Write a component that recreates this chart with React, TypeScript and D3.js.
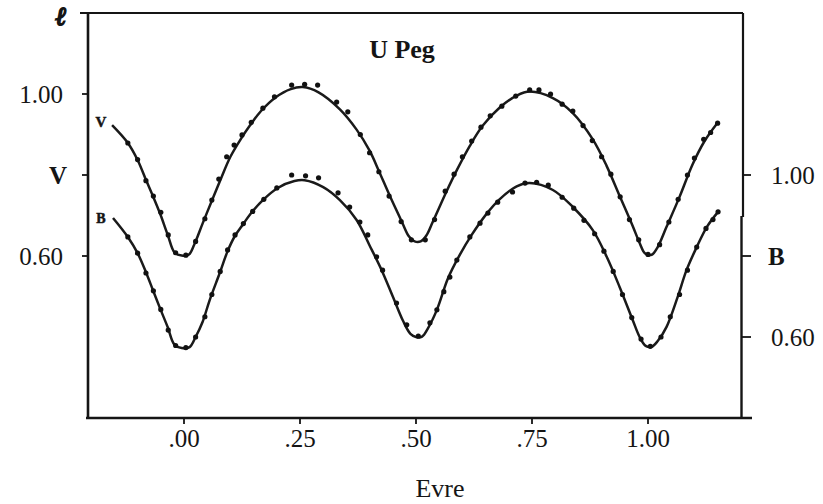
import React from "react";
import * as d3 from "d3";

// ---- data ----
const xTicks = [0, 0.25, 0.5, 0.75, 1.0];
const xTickLabels = [".00", ".25", ".50", ".75", "1.00"];
const leftTicks = [0.6, 0.8, 1.0];
const leftTickLabels = ["0.60", "V", "1.00"];
const rightTicks = [0.6, 0.8, 1.0];
const rightTickLabels = ["0.60", "B", "1.00"];

// fitted light curves (phase, intensity)
const vCurvePhase = [-0.155, -0.121, -0.1, -0.082, -0.067, -0.052, -0.035, -0.02, -0.005, 0.01, 0.022, 0.04, 0.062, 0.08, 0.1, 0.122, 0.142, 0.166, 0.198, 0.23, 0.256, 0.29, 0.336, 0.372, 0.4, 0.42, 0.443, 0.469, 0.485, 0.497, 0.51, 0.522, 0.536, 0.566, 0.588, 0.616, 0.644, 0.68, 0.717, 0.745, 0.795, 0.838, 0.881, 0.911, 0.939, 0.967, 0.982, 0.994, 1.008, 1.02, 1.04, 1.068, 1.096, 1.122, 1.148];
const vCurveValue = [0.923, 0.879, 0.837, 0.788, 0.748, 0.706, 0.652, 0.608, 0.601, 0.603, 0.628, 0.68, 0.742, 0.792, 0.845, 0.888, 0.922, 0.958, 0.992, 1.012, 1.017, 1.004, 0.962, 0.912, 0.86, 0.81, 0.75, 0.686, 0.648, 0.636, 0.636, 0.65, 0.684, 0.76, 0.812, 0.872, 0.922, 0.966, 0.996, 1.006, 0.99, 0.953, 0.888, 0.822, 0.748, 0.674, 0.632, 0.606, 0.603, 0.62, 0.672, 0.746, 0.826, 0.884, 0.926];

const bCurvePhase = [-0.153, -0.121, -0.1, -0.082, -0.067, -0.052, -0.035, -0.021, -0.005, 0.012, 0.025, 0.04, 0.055, 0.077, 0.094, 0.11, 0.127, 0.144, 0.17, 0.202, 0.238, 0.26, 0.3, 0.336, 0.372, 0.4, 0.426, 0.45, 0.472, 0.488, 0.5, 0.513, 0.526, 0.545, 0.569, 0.594, 0.62, 0.652, 0.68, 0.717, 0.745, 0.795, 0.838, 0.881, 0.911, 0.939, 0.967, 0.982, 0.995, 1.008, 1.021, 1.04, 1.064, 1.083, 1.105, 1.127, 1.151];
const bCurveValue = [0.894, 0.847, 0.807, 0.76, 0.716, 0.672, 0.624, 0.582, 0.573, 0.575, 0.6, 0.637, 0.69, 0.758, 0.812, 0.85, 0.878, 0.905, 0.938, 0.968, 0.985, 0.987, 0.97, 0.938, 0.889, 0.826, 0.765, 0.7, 0.64, 0.608, 0.6, 0.601, 0.622, 0.667, 0.745, 0.802, 0.852, 0.904, 0.94, 0.972, 0.98, 0.963, 0.921, 0.864, 0.798, 0.723, 0.642, 0.6, 0.578, 0.576, 0.59, 0.625, 0.699, 0.765, 0.822, 0.872, 0.909];

// observations
const vObsPhase = [-0.121, -0.1, -0.082, -0.066, -0.05, -0.034, -0.018, 0.004, 0.025, 0.045, 0.06, 0.075, 0.092, 0.108, 0.125, 0.145, 0.17, 0.195, 0.232, 0.26, 0.288, 0.329, 0.353, 0.38, 0.4, 0.42, 0.442, 0.468, 0.49, 0.52, 0.54, 0.563, 0.582, 0.6, 0.62, 0.64, 0.66, 0.685, 0.715, 0.745, 0.765, 0.79, 0.815, 0.838, 0.86, 0.88, 0.9, 0.92, 0.94, 0.96, 0.98, 1.0, 1.025, 1.045, 1.065, 1.085, 1.1, 1.12, 1.135, 1.15];
const vObsValue = [0.879, 0.838, 0.786, 0.748, 0.708, 0.652, 0.608, 0.602, 0.636, 0.692, 0.738, 0.79, 0.845, 0.874, 0.899, 0.93, 0.965, 0.993, 1.022, 1.024, 1.022, 0.98, 0.956, 0.9, 0.855, 0.808, 0.748, 0.685, 0.64, 0.64, 0.69, 0.76, 0.802, 0.845, 0.884, 0.918, 0.946, 0.97, 0.995, 1.01, 1.01, 1.0, 0.975, 0.958, 0.922, 0.885, 0.845, 0.802, 0.746, 0.69, 0.64, 0.604, 0.628, 0.684, 0.74, 0.8, 0.842, 0.888, 0.905, 0.928];

const bObsPhase = [-0.121, -0.1, -0.082, -0.066, -0.05, -0.034, -0.018, 0.004, 0.025, 0.045, 0.06, 0.078, 0.094, 0.11, 0.128, 0.148, 0.172, 0.2, 0.232, 0.262, 0.29, 0.332, 0.357, 0.379, 0.396, 0.415, 0.428, 0.458, 0.48, 0.505, 0.53, 0.545, 0.56, 0.573, 0.588, 0.616, 0.638, 0.655, 0.676, 0.708, 0.735, 0.76, 0.785, 0.815, 0.84, 0.862, 0.885, 0.905, 0.925, 0.945, 0.965, 0.985, 1.005, 1.028, 1.048, 1.068, 1.085, 1.105, 1.125, 1.14, 1.151];
const bObsValue = [0.847, 0.807, 0.758, 0.714, 0.668, 0.617, 0.579, 0.574, 0.6, 0.65, 0.705, 0.762, 0.815, 0.852, 0.88, 0.91, 0.94, 0.968, 1.0, 0.998, 0.993, 0.956, 0.921, 0.884, 0.852, 0.798, 0.765, 0.684, 0.63, 0.602, 0.635, 0.667, 0.712, 0.748, 0.79, 0.847, 0.881, 0.906, 0.933, 0.958, 0.98, 0.982, 0.975, 0.945, 0.918, 0.888, 0.855, 0.812, 0.762, 0.705, 0.648, 0.595, 0.577, 0.6, 0.65, 0.705, 0.765, 0.822, 0.868, 0.89, 0.909];

const W = 823;
const H = 504;
const FRAME = { left: 88, right: 742, top: 13, bottom: 418 };
const SERIF = "'Liberation Serif', 'Times New Roman', serif";
const INK = "#151515";

export default function App() {
  const x = d3.scaleLinear().domain([-0.2, 1.2]).range([91.2, 740.8]);
  const yV = d3.scaleLinear().domain([0.2, 1.2]).range([FRAME.bottom, FRAME.top]);
  const yB = d3.scaleLinear().domain([0.4, 1.4]).range([FRAME.bottom, FRAME.top]);

  const vLine = d3
    .line<number>()
    .x((_, i) => x(vCurvePhase[i]))
    .y((d) => yV(d))
    .curve(d3.curveCatmullRom.alpha(0.5));
  const bLine = d3
    .line<number>()
    .x((_, i) => x(bCurvePhase[i]))
    .y((d) => yB(d))
    .curve(d3.curveCatmullRom.alpha(0.5));

  return (
    <svg
      width={W}
      height={H}
      viewBox={`0 0 ${W} ${H}`}
      style={{ position: "absolute", left: 0, top: 0, background: "#fff" }}
    >
      <rect x={0} y={0} width={W} height={H} fill="#fff" />

      {/* frame */}
      <line x1={80} x2={FRAME.right + 1} y1={FRAME.top} y2={FRAME.top} stroke={INK} strokeWidth={2.2} />
      <line x1={FRAME.left} x2={FRAME.left} y1={FRAME.top} y2={FRAME.bottom} stroke={INK} strokeWidth={2.6} />
      <line x1={86} x2={752} y1={FRAME.bottom} y2={FRAME.bottom} stroke={INK} strokeWidth={2.6} />
      <line x1={743} x2={743} y1={FRAME.top} y2={217} stroke={INK} strokeWidth={2.2} />
      <line x1={741.5} x2={741.5} y1={216} y2={FRAME.bottom} stroke={INK} strokeWidth={2.4} />

      {/* left axis ticks */}
      {leftTicks.map((t, i) => (
        <g key={"l" + i}>
          <line x1={82} x2={FRAME.left} y1={yV(t)} y2={yV(t)} stroke={INK} strokeWidth={1.8} />
          <text
            x={i === 1 ? 67 : 63}
            y={yV(t) + 9}
            textAnchor="end"
            fontFamily={SERIF}
            fontSize={25}
            fontWeight={i === 1 ? "bold" : "normal"}
            fill={INK}
          >
            {leftTickLabels[i]}
          </text>
        </g>
      ))}

      {/* right axis ticks */}
      {rightTicks.map((t, i) => (
        <g key={"r" + i}>
          <line x1={742} x2={751} y1={yB(t)} y2={yB(t)} stroke={INK} strokeWidth={1.8} />
          <text
            x={i === 1 ? 768 : 771}
            y={yB(t) + 9}
            textAnchor="start"
            fontFamily={SERIF}
            fontSize={25}
            fontWeight={i === 1 ? "bold" : "normal"}
            fill={INK}
          >
            {rightTickLabels[i]}
          </text>
        </g>
      ))}

      {/* bottom axis ticks */}
      {xTicks.map((t, i) => (
        <g key={"b" + i}>
          <line x1={x(t)} x2={x(t)} y1={FRAME.bottom} y2={FRAME.bottom + 6} stroke={INK} strokeWidth={1.8} />
          <text x={x(t)} y={447} textAnchor="middle" fontFamily={SERIF} fontSize={25} fill={INK}>
            {xTickLabels[i]}
          </text>
        </g>
      ))}

      {/* axis titles */}
      <text x={440} y={497} textAnchor="middle" fontFamily={SERIF} fontSize={26} fill={INK}>
        Evre
      </text>
      <text
        x={61}
        y={25}
        textAnchor="middle"
        fontFamily="'DejaVu Serif', serif"
        fontSize={26}
        fontStyle="italic"
        fontWeight="bold"
        fill={INK}
        stroke={INK}
        strokeWidth={1.6}
      >
        ℓ
      </text>
      <text x={402} y={58} textAnchor="middle" fontFamily={SERIF} fontSize={26} fontWeight="bold" fill={INK}>
        U Peg
      </text>

      {/* curves */}
      <path d={vLine(vCurveValue) || ""} fill="none" stroke="#1a1a1a" strokeWidth={2.5} />
      <path d={bLine(bCurveValue) || ""} fill="none" stroke="#1a1a1a" strokeWidth={2.5} />

      {/* observations */}
      {vObsValue.map((v, i) => (
        <circle key={"vo" + i} cx={x(vObsPhase[i])} cy={yV(v)} r={2.6} fill="#111" />
      ))}
      {bObsValue.map((v, i) => (
        <circle key={"bo" + i} cx={x(bObsPhase[i])} cy={yB(v)} r={2.6} fill="#111" />
      ))}

      {/* curve labels */}
      <text x={101} y={yV(0.93) + 5} textAnchor="middle" fontFamily={SERIF} fontSize={15} fontWeight="bold" fill={INK} stroke={INK} strokeWidth={0.5}>
        V
      </text>
      <text x={101} y={yB(0.895) + 5} textAnchor="middle" fontFamily={SERIF} fontSize={14} fontWeight="bold" fill={INK} stroke={INK} strokeWidth={0.5}>
        B
      </text>
    </svg>
  );
}
